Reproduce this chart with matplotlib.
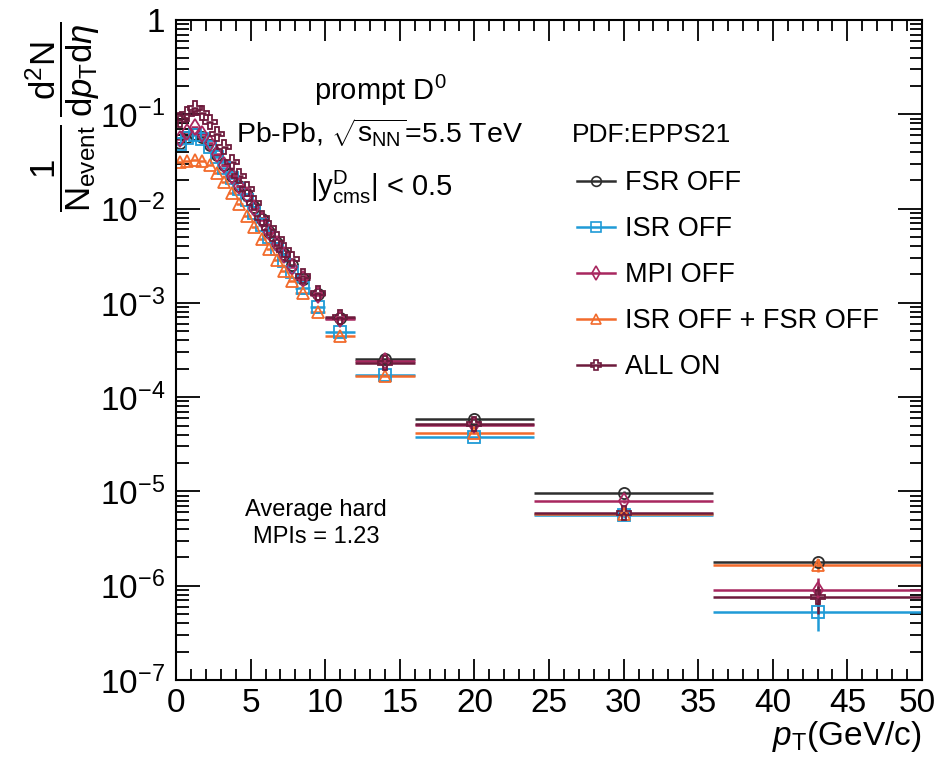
import numpy as np
import matplotlib
matplotlib.use('Agg')
import matplotlib.pyplot as plt
from matplotlib.lines import Line2D
from matplotlib.ticker import FuncFormatter, FixedLocator, LogLocator, MultipleLocator
from matplotlib.transforms import ScaledTranslation

plt.rcParams['font.family'] = ['Liberation Sans', 'DejaVu Sans']
plt.rcParams['mathtext.fontset'] = 'custom'
plt.rcParams['mathtext.rm'] = 'Liberation Sans'
plt.rcParams['mathtext.it'] = 'Liberation Sans:italic'
plt.rcParams['mathtext.bf'] = 'Liberation Sans:bold'

# pT binning (GeV/c)
edges = [0, 0.5, 1, 1.5, 2, 2.5, 3, 3.5, 4, 4.5, 5, 5.5, 6, 6.5, 7, 7.5, 8,
         9, 10, 12, 16, 24, 36, 50]

# 1/N_event d2N/dpT deta for each PYTHIA setting
fsr_off = [0.050, 0.058, 0.062, 0.058, 0.047, 0.037, 0.029, 0.022, 0.0175, 0.0140,
           0.0103, 7.7e-3, 5.7e-3, 4.3e-3, 3.3e-3, 2.5e-3, 1.8e-3, 1.25e-3,
           6.9e-4, 2.54e-4, 5.87e-5, 9.7e-6, 1.77e-6]
isr_off = [0.048, 0.056, 0.060, 0.055, 0.045, 0.035, 0.027, 0.021, 0.0160, 0.0122,
           9.0e-3, 6.7e-3, 5.0e-3, 3.7e-3, 2.8e-3, 2.1e-3, 1.45e-3, 9.1e-4,
           4.95e-4, 1.72e-4, 3.78e-5, 5.58e-6, 5.3e-7]
mpi_off = [0.055, 0.065, 0.073, 0.062, 0.049, 0.038, 0.029, 0.022, 0.0172, 0.0138,
           0.0102, 7.6e-3, 5.6e-3, 4.2e-3, 3.2e-3, 2.4e-3, 1.78e-3, 1.22e-3,
           6.8e-4, 2.40e-4, 5.05e-5, 7.9e-6, 9.0e-7]
isr_fsr_off = [0.031, 0.032, 0.033, 0.032, 0.029, 0.024, 0.019, 0.0145, 0.0112, 8.4e-3,
               6.3e-3, 4.8e-3, 3.7e-3, 2.85e-3, 2.2e-3, 1.72e-3, 1.28e-3, 8.0e-4,
               4.4e-4, 1.68e-4, 4.14e-5, 5.8e-6, 1.66e-6]
all_on = [0.087, 0.100, 0.116, 0.102, 0.082, 0.062, 0.045, 0.031, 0.0222, 0.0160,
          0.0114, 8.0e-3, 6.2e-3, 4.7e-3, 3.6e-3, 2.9e-3, 1.95e-3, 1.27e-3,
          7.0e-4, 2.32e-4, 5.15e-5, 5.97e-6, 7.55e-7]

# statistical errors of the three widest bins (20, 30, 43 GeV/c)
err_fsr_off = [0.4e-6, 0.3e-6, 0.15e-6]
err_isr_off = [0.4e-6, 0.3e-6, 0.2e-6]
err_mpi_off = [0.4e-6, 0.3e-6, 0.3e-6]
err_isr_fsr_off = [0.4e-6, 0.3e-6, 0.25e-6]
err_all_on = [0.4e-6, 0.3e-6, 0.25e-6]

labels = ['FSR OFF', 'ISR OFF', 'MPI OFF', 'ISR OFF + FSR OFF', 'ALL ON']
series = [fsr_off, isr_off, mpi_off, isr_fsr_off, all_on]
errors = [err_fsr_off, err_isr_off, err_mpi_off, err_isr_fsr_off, err_all_on]
colors = ['#2e2e2e', '#1f9bd7', '#a8275f', '#f26b2c', '#6d1a3c']
markers = ['o', 's', 'd', '^', 'P']
msizes = [8, 8, 8, 9, 10]

edges = np.array(edges)
centers = 0.5 * (edges[:-1] + edges[1:])
half_w = 0.5 * (edges[1:] - edges[:-1])

W, H = 936, 763
fig = plt.figure(figsize=(W / 100, H / 100), dpi=100)
ax = fig.add_axes([176 / W, 1 - 680 / H, (922 - 176) / W, (680 - 20) / H])

for vals, err, c, m, ms in zip(series, errors, colors, markers, msizes):
    vals = np.array(vals)
    yerr = np.concatenate([np.zeros(len(vals) - len(err)), err])
    ax.errorbar(centers, vals, xerr=half_w, yerr=yerr, fmt=m, color=c,
                mfc='none', mec=c, ms=ms, mew=1.3, elinewidth=1.8, capsize=0)

ax.set_yscale('log')
ax.set_xlim(0, 50)
ax.set_ylim(1e-7, 1)

ax.xaxis.set_major_locator(MultipleLocator(5))
ax.xaxis.set_minor_locator(MultipleLocator(1))
ax.yaxis.set_major_locator(FixedLocator(10.0 ** np.arange(-7, 1)))
ax.yaxis.set_minor_locator(LogLocator(base=10, subs=np.arange(2, 10), numticks=20))
ax.yaxis.set_minor_formatter(FuncFormatter(lambda v, p: ''))
ax.yaxis.set_major_formatter(FuncFormatter(
    lambda v, p: '1' if abs(v - 1) < 1e-9 else r'$10^{%d}$' % round(np.log10(v))))

ax.tick_params(which='both', direction='in', top=True, right=True, width=1.3,
               labelsize=24)
ax.tick_params(axis='x', which='major', length=15, pad=6)
ax.tick_params(axis='x', which='minor', length=8)
ax.tick_params(axis='y', which='major', length=17, pad=8)
ax.tick_params(axis='y', which='minor', length=9)
for s in ax.spines.values():
    s.set_linewidth(1.5)

# axis titles
fig.text(922 / W, 1 - 737 / H, r'$p_{\rm T}$(GeV/c)', fontsize=24,
         ha='right', va='center')
fig.text(63 / W, 1 - 117 / H,
         r'$\dfrac{1}{\mathrm{N}_{\mathrm{event}}}\,\dfrac{\mathrm{d}^{2}\mathrm{N}}{\mathrm{d}p_{\mathrm{T}}\mathrm{d}\eta}$',
         fontsize=25, rotation=90, ha='center', va='center')

# annotations
fig.text(380 / W, 1 - 90 / H, r'prompt D$^{0}$', fontsize=21, ha='center', va='center')
fig.text(380 / W, 1 - 133 / H, r'Pb-Pb, $\sqrt{\mathrm{s}_{\mathrm{NN}}}$=5.5 TeV',
         fontsize=20.5, ha='center', va='center')
fig.text(381 / W, 1 - 187 / H, r'$|\mathrm{y}^{\mathrm{D}}_{\mathrm{cms}}|$ < 0.5',
         fontsize=21, ha='center', va='center')
fig.text(572 / W, 1 - 135 / H, 'PDF:EPPS21', fontsize=19, ha='left', va='center')
fig.text(316 / W, 1 - 510 / H, 'Average hard', fontsize=17, ha='center', va='center')
fig.text(316 / W, 1 - 537 / H, 'MPIs = 1.23', fontsize=17, ha='center', va='center')

handles = [Line2D([], [], color=c, marker=m, mfc='none', mec=c, ms=7, mew=1.2, lw=1.8)
           for c, m in zip(colors, markers)]
fig.legend(handles, labels, loc='upper left', bbox_to_anchor=(577 / W, 1 - 170 / H),
           frameon=False, fontsize=19.5, handlelength=1.4, handletextpad=0.37,
           labelspacing=0.74, borderpad=0, borderaxespad=0)

# nudge the "50" label so it stays inside the canvas
fig.canvas.draw()
for tick, loc in zip(ax.xaxis.get_major_ticks(), ax.xaxis.get_majorticklocs()):
    if abs(loc - 50) < 1e-6:
        lab = tick.label1
        lab.set_transform(lab.get_transform() +
                          ScaledTranslation(-0.05, 0, fig.dpi_scale_trans))

fig.savefig('out.png', dpi=100)
